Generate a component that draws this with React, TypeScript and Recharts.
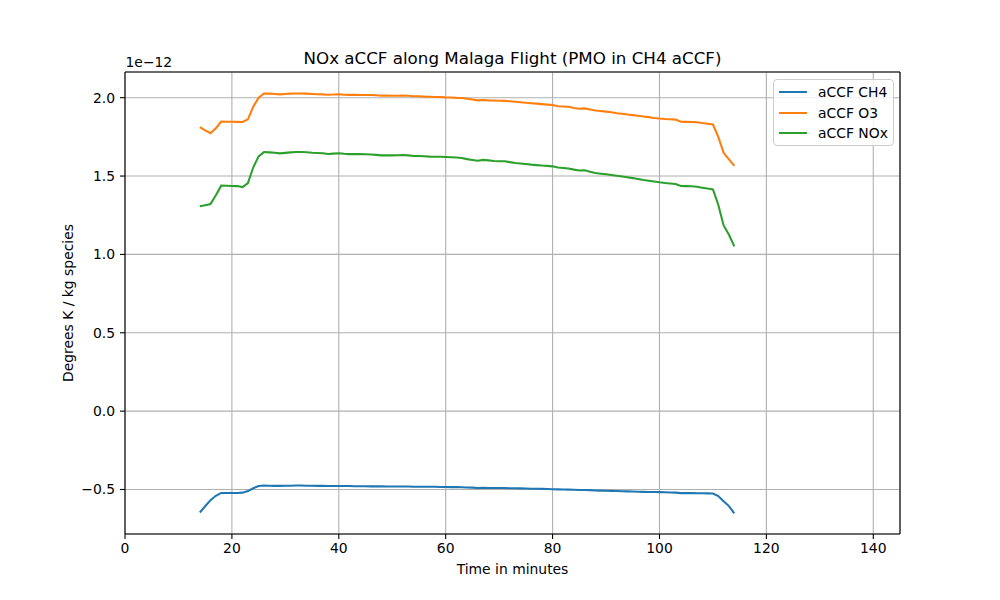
import React from 'react';
import { LineChart, Line, XAxis, YAxis, CartesianGrid, ReferenceLine } from 'recharts';

// Time in minutes
const times = [
  14, 15, 16, 17, 18, 19, 20, 21, 22, 23, 24, 25, 26, 27, 28, 29, 30, 31, 32, 33,
  34, 35, 36, 37, 38, 39, 40, 41, 42, 43, 44, 45, 46, 47, 48, 49, 50, 51, 52, 53,
  54, 55, 56, 57, 58, 59, 60, 61, 62, 63, 64, 65, 66, 67, 68, 69, 70, 71, 72, 73,
  74, 75, 76, 77, 78, 79, 80, 81, 82, 83, 84, 85, 86, 87, 88, 89, 90, 91, 92, 93,
  94, 95, 96, 97, 98, 99, 100, 101, 102, 103, 104, 105, 106, 107, 108, 109, 110, 111, 112, 113,
  114,
];

// values in units of 1e-12 K / kg species
const ch4 = [
  -0.647, -0.607, -0.568, -0.540, -0.522, -0.522, -0.522, -0.522, -0.520, -0.510,
  -0.492, -0.478, -0.475, -0.476, -0.477, -0.477, -0.476, -0.476, -0.475, -0.475,
  -0.476, -0.476, -0.477, -0.477, -0.478, -0.478, -0.478, -0.478, -0.478, -0.479,
  -0.479, -0.479, -0.480, -0.480, -0.480, -0.481, -0.481, -0.481, -0.481, -0.481,
  -0.482, -0.482, -0.483, -0.483, -0.483, -0.484, -0.484, -0.485, -0.485, -0.486,
  -0.487, -0.488, -0.490, -0.489, -0.490, -0.490, -0.491, -0.491, -0.492, -0.492,
  -0.493, -0.494, -0.495, -0.495, -0.496, -0.497, -0.498, -0.499, -0.500, -0.501,
  -0.502, -0.503, -0.503, -0.504, -0.506, -0.507, -0.508, -0.509, -0.510, -0.511,
  -0.512, -0.513, -0.514, -0.515, -0.516, -0.516, -0.517, -0.518, -0.519, -0.520,
  -0.523, -0.523, -0.523, -0.524, -0.524, -0.525, -0.526, -0.542, -0.575, -0.606,
  -0.653,
];

const o3 = [
  1.812, 1.792, 1.773, 1.805, 1.848, 1.847, 1.847, 1.846, 1.845, 1.862,
  1.943, 2.000, 2.027, 2.026, 2.024, 2.021, 2.024, 2.026, 2.027, 2.027,
  2.026, 2.024, 2.022, 2.021, 2.019, 2.020, 2.022, 2.019, 2.018, 2.018,
  2.017, 2.017, 2.017, 2.016, 2.013, 2.014, 2.012, 2.012, 2.013, 2.012,
  2.009, 2.009, 2.007, 2.006, 2.005, 2.004, 2.002, 2.001, 1.999, 1.998,
  1.993, 1.988, 1.983, 1.985, 1.983, 1.982, 1.981, 1.980, 1.977, 1.974,
  1.971, 1.968, 1.965, 1.962, 1.959, 1.956, 1.953, 1.946, 1.944, 1.942,
  1.934, 1.930, 1.932, 1.925, 1.918, 1.915, 1.911, 1.907, 1.901, 1.898,
  1.893, 1.889, 1.885, 1.880, 1.876, 1.871, 1.867, 1.864, 1.862, 1.860,
  1.847, 1.846, 1.845, 1.843, 1.838, 1.834, 1.829, 1.750, 1.648, 1.606,
  1.565,
];

const nox = [
  1.307, 1.314, 1.321, 1.378, 1.439, 1.438, 1.437, 1.436, 1.430, 1.455,
  1.556, 1.626, 1.653, 1.651, 1.649, 1.645, 1.648, 1.651, 1.653, 1.653,
  1.652, 1.649, 1.647, 1.645, 1.641, 1.643, 1.645, 1.642, 1.640, 1.640,
  1.640, 1.639, 1.638, 1.635, 1.632, 1.633, 1.632, 1.633, 1.634, 1.632,
  1.628, 1.628, 1.626, 1.624, 1.623, 1.623, 1.622, 1.620, 1.618, 1.615,
  1.608, 1.603, 1.598, 1.603, 1.600, 1.596, 1.595, 1.594, 1.589, 1.583,
  1.580, 1.577, 1.573, 1.570, 1.567, 1.565, 1.562, 1.555, 1.552, 1.548,
  1.541, 1.536, 1.537, 1.528, 1.519, 1.515, 1.511, 1.507, 1.502, 1.497,
  1.492, 1.487, 1.481, 1.475, 1.470, 1.465, 1.460, 1.456, 1.453, 1.449,
  1.437, 1.436, 1.435, 1.432, 1.426, 1.420, 1.415, 1.317, 1.185, 1.125,
  1.051,
];

const xTicks = [0, 20, 40, 60, 80, 100, 120, 140];
const yTicks = [-0.5, 0, 0.5, 1.0, 1.5, 2.0];

const X_MIN = 0;
const X_MAX = 145;
const Y_MIN = -0.784;
const Y_MAX = 2.164;

const series = [
  { key: 'ch4', name: 'aCCF CH4', color: '#1f77b4' },
  { key: 'o3', name: 'aCCF O3', color: '#ff7f0e' },
  { key: 'nox', name: 'aCCF NOx', color: '#2ca02c' },
];

const data = times.map((t, i) => ({ t, ch4: ch4[i], o3: o3[i], nox: nox[i] }));

const FONT = "'DejaVu Sans', sans-serif";
const tickStyle = { fill: '#000', fontSize: 13.9, fontFamily: FONT };

const fmtY = (v: number) => (v < 0 ? '\u2212' + Math.abs(v).toFixed(1) : v.toFixed(1));

export default function App() {
  return (
    <div style={{ position: 'absolute', left: 0, top: 0, width: 1000, height: 600, background: '#fff', fontFamily: FONT }}>
      <LineChart width={1000} height={600} data={data} margin={{ top: 72, right: 100, bottom: 36, left: 0 }}>
        <CartesianGrid stroke="#b0b0b0" strokeWidth={1.1} />
        <XAxis
          dataKey="t"
          type="number"
          domain={[X_MIN, X_MAX]}
          ticks={xTicks}
          allowDataOverflow
          height={30}
          tick={tickStyle}
          tickSize={5}
          tickMargin={4}
          axisLine={{ stroke: '#000', strokeWidth: 1.1 }}
          tickLine={{ stroke: '#000', strokeWidth: 1.1 }}
        />
        <YAxis
          type="number"
          domain={[Y_MIN, Y_MAX]}
          ticks={yTicks}
          allowDataOverflow
          width={125}
          tick={tickStyle}
          tickFormatter={fmtY}
          tickSize={5}
          tickMargin={5}
          axisLine={{ stroke: '#000', strokeWidth: 1.1 }}
          tickLine={{ stroke: '#000', strokeWidth: 1.1 }}
        />
        <ReferenceLine y={Y_MAX} stroke="#000" strokeWidth={1.1} />
        <ReferenceLine x={X_MAX} stroke="#000" strokeWidth={1.1} />
        {series.map((s) => (
          <Line
            key={s.key}
            dataKey={s.key}
            name={s.name}
            stroke={s.color}
            strokeWidth={2.08}
            dot={false}
            activeDot={false}
            isAnimationActive={false}
            type="linear"
          />
        ))}
      </LineChart>
      <svg width={1000} height={600} style={{ position: 'absolute', left: 0, top: 0, pointerEvents: 'none' }}>
        <text x={512.5} y={64} textAnchor="middle" fontSize={16.7} fontFamily={FONT} fill="#000">
          NOx aCCF along Malaga Flight (PMO in CH4 aCCF)
        </text>
        <text x={125.5} y={67.3} textAnchor="start" fontSize={13.9} fontFamily={FONT} fill="#000">
          1e{'\u2212'}12
        </text>
        <text x={512.5} y={574} textAnchor="middle" fontSize={13.9} fontFamily={FONT} fill="#000">
          Time in minutes
        </text>
        <text
          x={73}
          y={303}
          textAnchor="middle"
          fontSize={13.9}
          fontFamily={FONT}
          fill="#000"
          transform="rotate(-90 73 303)"
        >
          Degrees K / kg species
        </text>
      </svg>
      <div
        style={{
          position: 'absolute',
          left: 773,
          top: 79,
          width: 119,
          height: 65,
          border: '1px solid #cccccc',
          borderRadius: 4,
          background: 'rgba(255,255,255,0.8)',
        }}
      >
        {series.map((s, i) => (
          <div key={s.key} style={{ position: 'absolute', left: 0, top: 2 + i * 20.7, height: 20, width: 119 }}>
            <div
              style={{
                position: 'absolute',
                left: 4.5,
                top: 9,
                width: 28,
                height: 2,
                background: s.color,
              }}
            />
            <div
              style={{
                position: 'absolute',
                left: 44,
                top: 1,
                fontSize: 13.9,
                lineHeight: '18px',
                fontFamily: FONT,
                color: '#000',
                whiteSpace: 'nowrap',
              }}
            >
              {s.name}
            </div>
          </div>
        ))}
      </div>
    </div>
  );
}
